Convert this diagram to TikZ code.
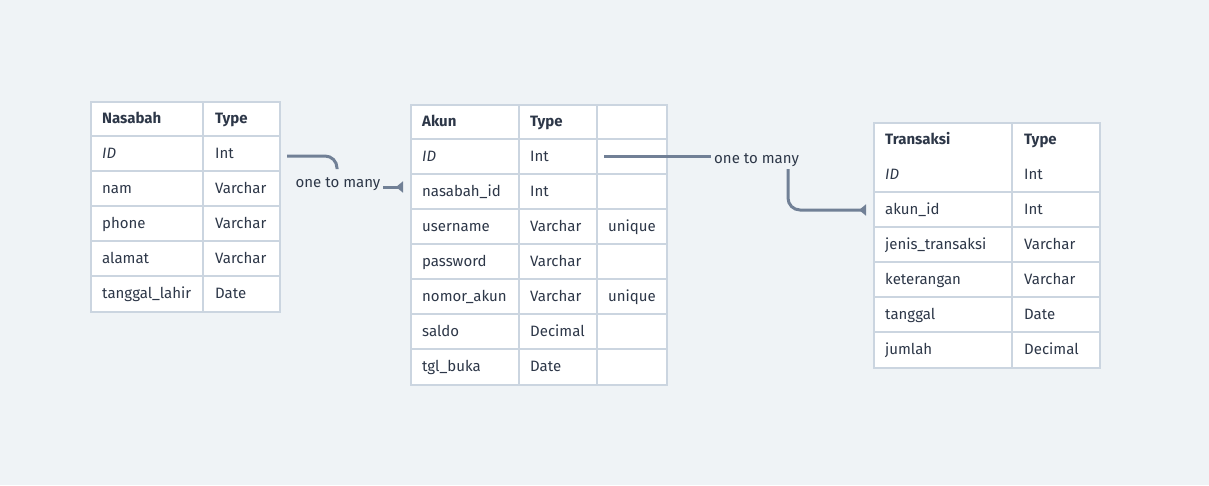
\documentclass[tikz,border=0pt]{standalone}
\usepackage{fontspec}
\setmainfont{Fira Sans}
\usetikzlibrary{arrows.meta}
\definecolor{bg}{HTML}{EFF3F6}
\definecolor{gridc}{HTML}{CBD5E0}
\definecolor{ink}{HTML}{2D3748}
\definecolor{connc}{HTML}{718096}
\tikzset{
  tbl/.style={rectangle, fill=white, draw=gridc, line width=1.6pt, anchor=north west, inner sep=0},
  gline/.style={draw=gridc, line width=1.6pt},
  txt/.style={anchor=base west, text=ink, inner sep=0, font=\fontsize{15}{17}\selectfont},
  hdr/.style={txt, font=\fontsize{15}{17}\selectfont\bfseries},
  itx/.style={txt, font=\fontsize{15}{17}\selectfont\itshape},
  lbl/.style={text=ink, inner sep=0, anchor=base, font=\fontsize{15}{17}\selectfont},
  conn/.style={draw=connc, line width=3pt},
  tip/.style={-{Triangle[reversed, length=7pt, width=11pt]}}
}
\begin{document}
\begin{tikzpicture}[x=1pt, y=-1pt]
\useasboundingbox[fill=bg] (0,0) rectangle (1209,485);

% ---------- Nasabah ----------
\node[tbl, minimum width=189pt, minimum height=210pt] (nas) at (90,101) {};
\foreach \y in {136,171,206,241,276} \draw[gline] (90,\y) -- (279,\y);
\draw[gline] (203,101) -- (203,311);
\node[hdr] (nas-h1) at (102,123.5) {Nasabah};
\node[hdr] (nas-h2) at (215,123.5) {Type};
\node[itx] (nas-11) at (102,158.5) {ID};
\node[txt] (nas-12) at (215,158.5) {Int};
\node[txt] (nas-21) at (102,193.5) {nam};
\node[txt] (nas-22) at (215,193.5) {Varchar};
\node[txt] (nas-31) at (102,228.5) {phone};
\node[txt] (nas-32) at (215,228.5) {Varchar};
\node[txt] (nas-41) at (102,263.5) {alamat};
\node[txt] (nas-42) at (215,263.5) {Varchar};
\node[txt] (nas-51) at (102,298.5) {tanggal\_lahir};
\node[txt] (nas-52) at (215,298.5) {Date};

% ---------- Akun ----------
\node[tbl, minimum width=256pt, minimum height=280pt] (ak) at (410,104) {};
\foreach \y in {139,174,209,244,279,314,349} \draw[gline] (410,\y) -- (666,\y);
\draw[gline] (519,104) -- (519,384);
\draw[gline] (597,104) -- (597,384);
\node[hdr] (ak-h1) at (422,126.5) {Akun};
\node[hdr] (ak-h2) at (530,126.5) {Type};
\node[itx] (ak-11) at (422,161.5) {ID};
\node[txt] (ak-12) at (530,161.5) {Int};
\node[txt] (ak-21) at (422,196.5) {nasabah\_id};
\node[txt] (ak-22) at (530,196.5) {Int};
\node[txt] (ak-31) at (422,231.5) {username};
\node[txt] (ak-32) at (530,231.5) {Varchar};
\node[txt] (ak-33) at (608,231.5) {unique};
\node[txt] (ak-41) at (422,266.5) {password};
\node[txt] (ak-42) at (530,266.5) {Varchar};
\node[txt] (ak-51) at (422,301.5) {nomor\_akun};
\node[txt] (ak-52) at (530,301.5) {Varchar};
\node[txt] (ak-53) at (608,301.5) {unique};
\node[txt] (ak-61) at (422,336.5) {saldo};
\node[txt] (ak-62) at (530,336.5) {Decimal};
\node[txt] (ak-71) at (422,371.5) {tgl\_buka};
\node[txt] (ak-72) at (530,371.5) {Date};

% ---------- Transaksi ----------
\node[tbl, minimum width=226pt, minimum height=245pt] (tr) at (873,122) {};
\foreach \y in {192,227,262,297,332} \draw[gline] (873,\y) -- (1099,\y);
\draw[gline] (1012,122) -- (1012,367);
\node[hdr] (tr-h1) at (885,144.5) {Transaksi};
\node[hdr] (tr-h2) at (1024,144.5) {Type};
\node[itx] (tr-11) at (885,179.5) {ID};
\node[txt] (tr-12) at (1024,179.5) {Int};
\node[txt] (tr-21) at (885,214.5) {akun\_id};
\node[txt] (tr-22) at (1024,214.5) {Int};
\node[txt] (tr-31) at (885,249.5) {jenis\_transaksi};
\node[txt] (tr-32) at (1024,249.5) {Varchar};
\node[txt] (tr-41) at (885,284.5) {keterangan};
\node[txt] (tr-42) at (1024,284.5) {Varchar};
\node[txt] (tr-51) at (885,319.5) {tanggal};
\node[txt] (tr-52) at (1024,319.5) {Date};
\node[txt] (tr-61) at (885,354.5) {jumlah};
\node[txt] (tr-62) at (1024,354.5) {Decimal};

% ---------- connector 1: Nasabah -> Akun ----------
\node[lbl] (l1) at (338,187) {one to many};
\coordinate (c1a) at (287,156);
\coordinate (c1b) at (337,169);
\coordinate (c1c) at (383,187);
\coordinate (c1d) at (403,187);
\draw[conn, rounded corners=12pt] (c1a) -- (c1b |- c1a) -- (c1b);
\draw[conn, tip] (c1c) -- (c1d);

% ---------- connector 2: Akun -> Transaksi ----------
\node[lbl, anchor=base west] (l2) at (714,163) {one to many};
\coordinate (c2a) at (604,156);
\coordinate (c2b) at (711,156);
\coordinate (c2c) at (788,169);
\coordinate (c2d) at (866,210);
\draw[conn] (c2a) -- (c2b);
\draw[conn, tip, rounded corners=12pt] (c2c) -- (c2c |- c2d) -- (c2d);
\end{tikzpicture}
\end{document}
